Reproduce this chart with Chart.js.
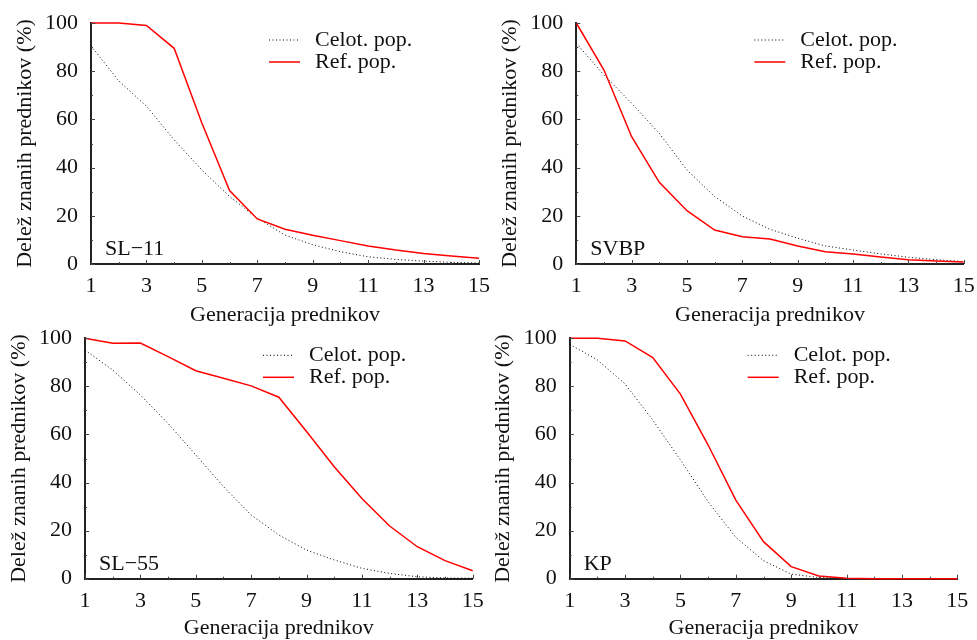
<!DOCTYPE html>
<html><head><meta charset="utf-8">
<script src="https://cdn.jsdelivr.net/npm/chart.js@4/dist/chart.umd.min.js"></script>
<style>
html,body{margin:0;padding:0;background:#fff;overflow:hidden;width:977px;height:640px}
.p{position:absolute;width:500px;height:330px}
</style></head><body>
<div class="p" style="left:0;top:0"><canvas id="c1" width="500" height="330"></canvas></div>
<div class="p" style="left:488px;top:0"><canvas id="c2" width="500" height="330"></canvas></div>
<div class="p" style="left:0;top:320px"><canvas id="c3" width="500" height="330"></canvas></div>
<div class="p" style="left:488px;top:320px"><canvas id="c4" width="500" height="330"></canvas></div>
<script>
var gens=[1,2,3,4,5,6,7,8,9,10,11,12,13,14,15];
var xTicks=[1,3,5,7,9,11,13,15];
var yTicks=[0,20,40,60,80,100];
var seriesNames=['Celot. pop.','Ref. pop.'];
var panelNames=['SL\u221211','SVBP','SL\u221255','KP'];

var sl11Celot=[90.5,76,65.5,51.5,39,28,19,12,8,5.1,3,1.9,1.2,0.7,0.4];
var sl11Ref=[100,100,99,89.5,58.5,30.5,18.7,14.4,11.9,9.7,7.5,5.8,4.4,3.3,2.4];
var svbpCelot=[91.6,78.4,66.7,54.2,39,28,19.9,14.4,10.7,7.5,5.8,4.2,2.8,1.8,1];
var svbpRef=[100,80.5,52.8,33.9,22.1,14.1,11.3,10.4,7.5,5.1,4.1,2.9,1.8,1.2,0.8];
var sl55Celot=[95.1,86.8,76.4,64.6,51.5,38.3,26.5,18.2,11.9,7.8,4.3,2.2,0.8,0.3,0.2];
var sl55Ref=[100,97.9,98,92.4,86.5,83.4,80.2,75.5,61.2,46.6,33.4,21.9,13.3,7.5,3.3];
var kpCelot=[97.5,91,81,66,49.4,32,17.2,7.5,1.9,0.5,0.1,0,0,0,0];
var kpRef=[100,100,98.9,92,76.8,55.6,32.7,15.4,5,1.1,0.2,0,0,0,0];

var FONT='"Liberation Serif","Times New Roman",serif';
Chart.defaults.color='#111';
Chart.defaults.font.family=FONT;

// inward tick marks, legend and panel name drawn on the plot area
var decor={
  id:'decor',
  afterDraw:function(ch){
    var c=ch.ctx,a=ch.chartArea,xs=ch.scales.x,ys=ch.scales.y,o=ch.options.plugins.decor;
    c.save();
    c.strokeStyle='#444';c.lineWidth=1;
    gens.forEach(function(g){
      var px=Math.round(xs.getPixelForValue(g))+0.5,l=(g%2)?4:2;
      c.beginPath();c.moveTo(px,a.bottom);c.lineTo(px,a.bottom-l);c.stroke();
    });
    for(var v=0;v<=100;v+=10){
      var py=Math.round(ys.getPixelForValue(v))+0.5,l=(v%20)?2:4;
      c.beginPath();c.moveTo(a.left,py);c.lineTo(a.left+l,py);c.stroke();
    }
    c.font='22px '+FONT;c.fillStyle='#111';c.textBaseline='middle';c.textAlign='left';
    ch.data.datasets.forEach(function(d,i){
      var y=a.top+17+i*22;
      c.strokeStyle=d.borderColor;c.lineWidth=d.borderWidth;c.setLineDash(d.borderDash||[]);
      c.beginPath();c.moveTo(a.left+178,y);c.lineTo(a.left+209,y);c.stroke();
      c.setLineDash([]);
      c.fillText(d.label,a.left+224,y);
    });
    c.textBaseline='alphabetic';
    c.fillText(o.name,a.left+14,a.bottom-9);
    c.restore();
  }
};

function makePanel(id,name,celot,ref,geo){
  var top=geo[2],bot=geo[3];
  new Chart(document.getElementById(id),{
    type:'line',
    data:{labels:gens,datasets:[
      {label:seriesNames[0],data:celot,borderColor:'#000',borderWidth:1,borderDash:[1,2.5],pointRadius:0,tension:0,clip:5,order:2},
      {label:seriesNames[1],data:ref,borderColor:'#ff0000',borderWidth:1.5,pointRadius:0,tension:0,clip:5,order:1}
    ]},
    options:{
      responsive:false,animation:false,events:[],
      layout:{padding:{left:0,top:top,right:500-geo[1],bottom:0}},
      plugins:{legend:{display:false},tooltip:{enabled:false},decor:{name:name}},
      scales:{
        x:{type:'linear',min:1,max:15,
          afterBuildTicks:function(s){s.ticks=xTicks.map(function(v){return{value:v};});},
          grid:{display:false,drawTicks:false},
          border:{display:true,color:'#222',width:2},
          ticks:{font:{size:22},padding:9,maxRotation:0,autoSkip:false},
          title:{display:true,text:'Generacija prednikov',font:{size:22,lineHeight:1},padding:{top:0,bottom:geo[4]}},
          afterFit:function(s){s.height=330-bot;s.paddingLeft=0;s.paddingRight=0;}
        },
        y:{min:0,max:100,
          afterBuildTicks:function(s){s.ticks=yTicks.map(function(v){return{value:v};});},
          grid:{display:false,drawTicks:false},
          border:{display:true,color:'#222',width:2},
          ticks:{font:{size:22},padding:13},
          title:{display:true,text:'Dele\u017e znanih prednikov (%)',font:{size:22,lineHeight:1},padding:{top:geo[0]-77,bottom:0}},
          afterFit:function(s){s.width=geo[0];s.paddingTop=0;s.paddingBottom=0;}
        }
      }
    },
    plugins:[decor]
  });
}

// [plot left, plot right, plot top, plot bottom, x title bottom pad]
makePanel('c1',panelNames[0],sl11Celot,sl11Ref,[91,479,23,264,4]);
makePanel('c2',panelNames[1],svbpCelot,svbpRef,[88.3,475.7,23,264,4]);
makePanel('c3',panelNames[2],sl55Celot,sl55Ref,[85,472.7,18.3,258.7,11]);
makePanel('c4',panelNames[3],kpCelot,kpRef,[81.7,469.3,18.3,258.7,11]);
</script>
</body></html>
